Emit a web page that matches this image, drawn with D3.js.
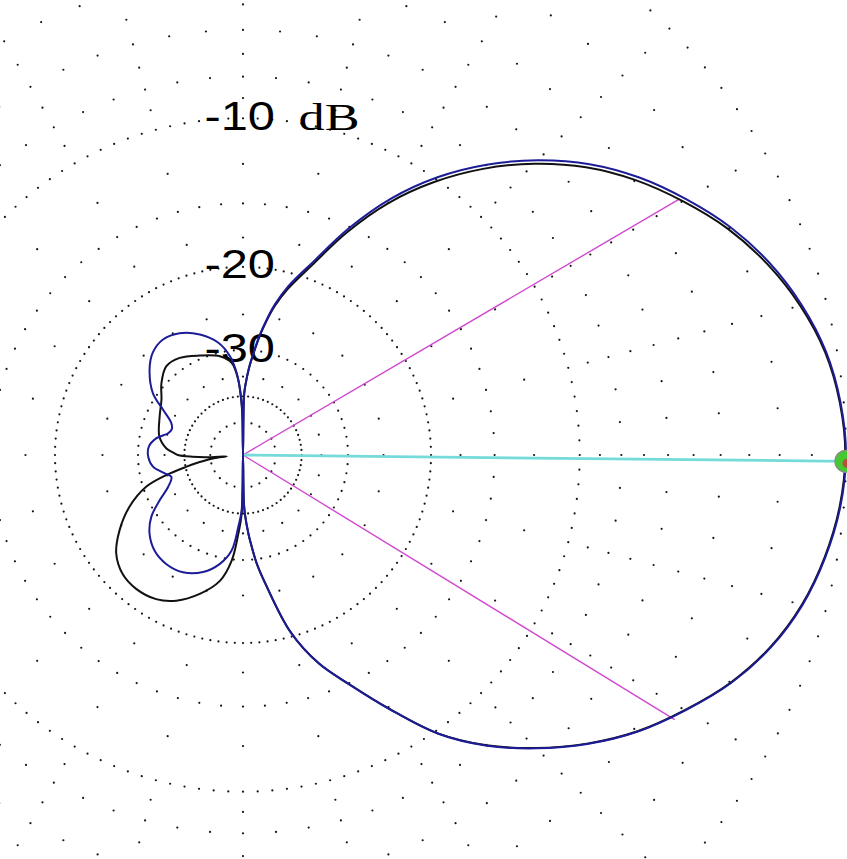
<!DOCTYPE html>
<html><head><meta charset="utf-8">
<script src="https://cdn.jsdelivr.net/npm/d3@7"></script>
<style>html,body{margin:0;padding:0;background:#fff;overflow:hidden}</style>
</head><body>
<svg id="chart" width="847" height="859"></svg>
<script>
// ---------------- data ----------------
const ringDb = [0, -10, -20, -30, -40];
const ringStepDeg = [2.5, 2.5, 2.5, 5, 5];
const ringLabels = ["-10", "-20", "-30"];
const ringLabelDb = [-10, -20, -30];
const unitLabel = "dB";
const majorSpokeDb = [-1, -2, -3, -4, -5, -6, -7, -8, -9, -12.5, -15, -17.5, -25, -35, -50];
const minorSpokeDb = [-2, -4, -6, -8, -15];
const spokeStepDeg = 5;
const majorSpokeEvery = 15;

const blueAngles = [0, 5, 10, 15, 20, 25, 30, 35, 40, 45, 50, 55, 60, 65, 70, 75, 78, 80, 82, 84, 86, 88, 89, 90,
  91, 92, 94.4, 97.5, 102.5, 109.7, 117.5, 124.7, 131.4, 137.6, 145.5, 150.5, 156, 160, 163.8, 169, 174.9, 181,
  187.4, 193.2, 197, 203, 208.5, 214, 220.1, 227.2, 234.8, 242.9, 251.2, 258, 263.2, 266.2, 268.6, 270,
  271, 272, 274, 275, 277.2, 280, 285, 290, 295, 300, 305, 310, 315, 320, 325, 330, 335, 340, 345, 350, 355];
const blueDb = [0.0, -0.09, -0.31, -0.71, -1.25, -1.95, -2.82, -3.78, -4.93, -6.34, -7.97, -9.88, -12.21, -15.12, -18.45, -21.28, -23.4, -25.3, -27.5, -30.2, -33.0, -36.8, -39.3, -99,
  -45, -40.1, -34.2, -30.9, -28.4, -26.6, -25.4, -25.0, -25.5, -26.8, -29.3, -32.3, -35.0, -35.6, -35.1, -33.0, -31.8, -31.75,
  -32.5, -34.6, -35.8, -34.4, -31.75, -29.1, -27.4, -26.3, -25.9, -26.1, -27.2, -29.0, -31.5, -36.4, -41.0, -99,
  -44, -39.5, -34.8, -33.0, -29.3, -26.1, -20.45, -17.15, -14.85, -12.35, -9.82, -7.95, -6.42, -5.04, -3.84, -2.85, -1.93, -1.21, -0.69, -0.34, -0.10];

const blackAngles = [0, 5, 10, 15, 20, 25, 30, 35, 40, 45, 50, 55, 60, 65, 70, 75, 78, 80, 82, 84, 86, 88, 89, 90,
  91, 92, 93.6, 97, 103.2, 113.5, 123.1, 130.8, 138.6, 145.9, 155.2, 167.6, 175, 178, 180, 182, 183.5, 185,
  186.5, 188.5, 190, 191.7, 194.7, 198.2, 204.6, 211.4, 217.9, 224.7, 231.4, 238.9, 245.4, 252.7, 259.6, 263.9,
  266.6, 268.7, 270, 271, 272, 274, 275, 277.2, 280, 285, 290, 295, 300, 305, 310, 315, 320, 325, 330, 335, 340, 345, 350, 355];
const blackDb = [-0.02, -0.11, -0.34, -0.76, -1.33, -2.05, -2.95, -3.94, -5.11, -6.54, -8.22, -10.18, -12.51, -15.42, -18.75, -21.58, -23.65, -25.5, -27.7, -30.4, -33.2, -37.0, -40, -99,
  -46, -40.5, -35.7, -32.1, -30.6, -29.45, -28.3, -28.1, -29.4, -31.1, -32.3, -33.5, -35.3, -37.0, -38.2, -42.5, -48, -62,
  -52, -47, -43.5, -40.3, -34.8, -30.5, -27.0, -24.5, -22.7, -21.8, -21.6, -21.9, -22.75, -24.4, -26.6, -29.8,
  -34.9, -40, -99, -44, -39.5, -34.8, -33.0, -29.32, -26.12, -20.47, -17.17, -14.87, -12.37, -9.84, -7.97, -6.44, -5.06, -3.86, -2.87, -1.95, -1.23, -0.71, -0.36, -0.12];

const maxDirDeg = -0.6;
const maxDb = 0;
const halfPowerDeg = [30.4, -31.5];
const halfPowerDb = -3;

// ---------------- layout ----------------
const W = 847, H = 859;
const cx = 243, cy = 455, R = 603;
const svg = d3.select("#chart");
svg.append("rect").attr("width", W).attr("height", H).attr("fill", "#fff");
const g = svg.append("g").attr("transform", `translate(${cx},${cy})`);

// ARRL log scale: r = R * 0.89^(-dB/2)  -> log(r) linear in dB
const rLog = d3.scaleLog().domain([R * Math.pow(0.89, 20), R]).range([-40, 0]);
const rOf = db => (db <= -90 ? 0 : rLog.invert(db));
// math degrees (CCW from east) -> d3 radial angle (clockwise from north, radians)
const ang = d3.scaleLinear().domain([0, 360]).range([Math.PI / 2, Math.PI / 2 - 2 * Math.PI]);
const pt = (a, db) => d3.pointRadial(ang(a), rOf(db));

// ---------------- grid dots ----------------
const dots = [];
ringDb.forEach((db, i) => {
  const step = ringStepDeg[i];
  for (let a = 0; a < 360 - 1e-6; a += step) dots.push([a, db]);
});
for (let a = 0; a < 360; a += spokeStepDeg) {
  const list = (a % majorSpokeEvery === 0) ? majorSpokeDb : minorSpokeDb;
  list.forEach(db => dots.push([a, db]));
}
g.append("g").selectAll("circle").data(dots).join("circle")
  .attr("cx", d => pt(d[0], d[1])[0])
  .attr("cy", d => pt(d[0], d[1])[1])
  .attr("r", 1.1)
  .attr("fill", "#151515");

// ---------------- ring labels ----------------
const lab = g.append("g").attr("fill", "#000");
ringLabels.forEach((t, i) => {
  const y = -rOf(ringLabelDb[i]) + 11.5;
  lab.append("text").attr("x", 204.5 - cx).attr("y", y)
    .attr("font-family", "'Liberation Sans', Arial, sans-serif").attr("font-size", 41)
    .attr("textLength", 70.5).attr("lengthAdjust", "spacingAndGlyphs").text(t);
  if (i === 0) {
    lab.append("text").attr("x", 298.5 - cx).attr("y", y + 0.5)
      .attr("font-family", "'Liberation Serif', 'Times New Roman', serif").attr("font-size", 37)
      .attr("textLength", 61).attr("lengthAdjust", "spacingAndGlyphs").text(unitLabel);
  }
});

// ---------------- beamwidth and max direction ----------------
halfPowerDeg.forEach(a => {
  const p = pt(a, halfPowerDb);
  g.append("line").attr("x1", 0).attr("y1", 0).attr("x2", p[0]).attr("y2", p[1])
    .attr("stroke", "#d04ad0").attr("stroke-width", 1.4);
});
const pm = pt(maxDirDeg, maxDb);
g.append("line").attr("x1", 0).attr("y1", 0).attr("x2", pm[0]).attr("y2", pm[1])
  .attr("stroke", "#74dada").attr("stroke-width", 2.8);

// ---------------- traces ----------------
const radial = d3.lineRadial()
  .angle(d => ang(d[0]))
  .radius(d => rOf(d[1]))
  .curve(d3.curveCatmullRomClosed.alpha(0.5));
const blackData = blackAngles.map((a, i) => [a, blackDb[i]]);
const blueData = blueAngles.map((a, i) => [a, blueDb[i]]);
g.append("path").attr("d", radial(blackData)).attr("fill", "none")
  .attr("stroke", "#111").attr("stroke-width", 2);
g.append("path").attr("d", radial(blueData)).attr("fill", "none")
  .attr("stroke", "#1c1c98").attr("stroke-width", 2);

// ---------------- max marker ----------------
g.append("circle").attr("cx", pm[0]).attr("cy", pm[1]).attr("r", 11)
  .attr("fill", "#46c832").attr("stroke", "#8a8a8a").attr("stroke-width", 1.2);
g.append("circle").attr("cx", pm[0] + 1).attr("cy", pm[1] + 2).attr("r", 4.5)
  .attr("fill", "#b8503c");
</script>
</body></html>
